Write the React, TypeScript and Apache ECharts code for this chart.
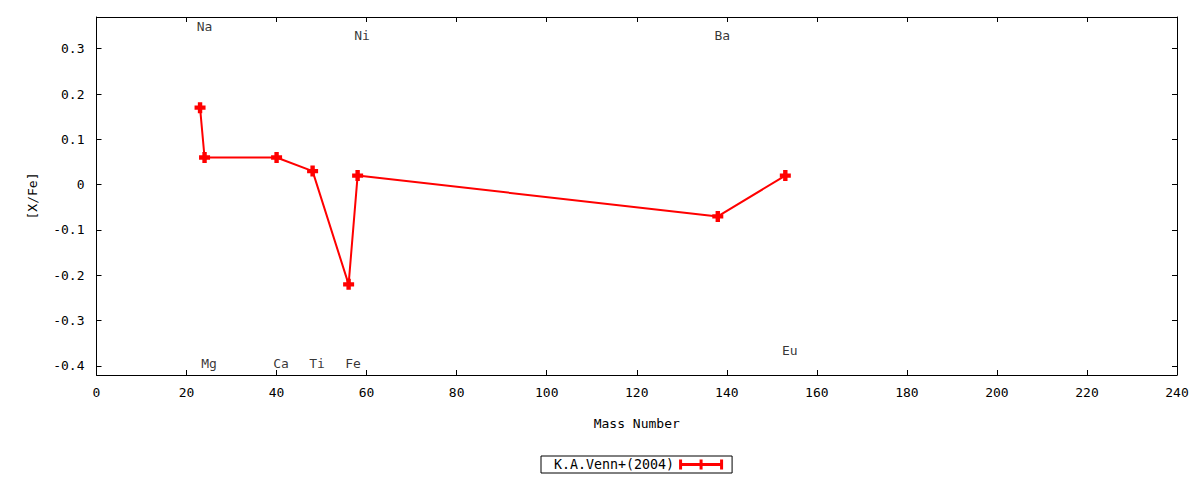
import { useEffect, useRef } from 'react';
import * as echarts from 'echarts';

// measured abundances (mass number vs [X/Fe])
const massNumbers = [23, 24, 40, 48, 56, 58, 138, 153];
const xFeValues = [0.17, 0.06, 0.06, 0.03, -0.22, 0.02, -0.07, 0.02];

// element labels placed in data coordinates
const elementNames = ['Na', 'Mg', 'Ca', 'Ti', 'Fe', 'Ni', 'Ba', 'Eu'];
const elementLabelX = [24, 25, 41, 49, 57, 59, 139, 154];
const elementLabelY = [0.35, -0.395, -0.395, -0.395, -0.395, 0.33, 0.33, -0.365];

const yTicks = [-0.4, -0.3, -0.2, -0.1, 0, 0.1, 0.2, 0.3];
const seriesName = 'K.A.Venn+(2004)';

const FONT = 'DejaVu Sans Mono';
const PLUS = 'path://M3,0h4v3h3v4h-3v3h-4v-3h-3v-4h3z';
const LEGEND_ICON =
    'path://M0,1h3v3.5h17.5v-3.5h3v3.5h17.5v-3.5h3v10h-3v-3.5h-17.5v3.5h-3v-3.5h-17.5v3.5h-3z';

export default function App() {
    const chartRef = useRef<HTMLDivElement>(null);

    useEffect(() => {
        if (!chartRef.current) return;
        const chart = echarts.init(chartRef.current, undefined, { renderer: 'svg' });

        const axisLine = { show: true, onZero: false, lineStyle: { color: '#000', width: 1 } };
        const tick = { show: true, inside: true, length: 5, lineStyle: { color: '#000' } };
        const text = { color: '#000', fontFamily: FONT, fontSize: 13 };

        chart.setOption({
            animation: false,
            textStyle: { fontFamily: FONT },
            grid: { left: 96.5, right: 23, top: 17, bottom: 105, containLabel: false },
            legend: {
                show: true,
                data: [{ name: seriesName, icon: LEGEND_ICON }],
                left: 541,
                top: 456,
                align: 'right',
                itemWidth: 44,
                itemHeight: 10,
                padding: [2, 9, 2, 13],
                borderColor: '#000',
                borderWidth: 1,
                textStyle: { ...text, fontSize: 13.3 },
            },
            xAxis: [
                {
                    type: 'value',
                    min: 0,
                    max: 240,
                    interval: 20,
                    name: 'Mass Number',
                    nameLocation: 'middle',
                    nameGap: 42,
                    nameTextStyle: { ...text },
                    axisLine,
                    axisTick: tick,
                    axisLabel: { ...text, margin: 11 },
                    splitLine: { show: false },
                },
                {
                    type: 'value',
                    position: 'top',
                    min: 0,
                    max: 240,
                    interval: 20,
                    axisLine,
                    axisTick: tick,
                    axisLabel: { show: false },
                    splitLine: { show: false },
                },
            ],
            yAxis: [
                {
                    type: 'value',
                    min: -0.42,
                    max: 0.37,
                    name: '[X/Fe]',
                    nameLocation: 'middle',
                    nameRotate: 90,
                    nameGap: 58,
                    nameTextStyle: { ...text },
                    axisLine,
                    axisTick: { ...tick, customValues: yTicks },
                    axisLabel: { ...text, margin: 12, customValues: yTicks },
                    splitLine: { show: false },
                },
                {
                    type: 'value',
                    position: 'right',
                    min: -0.42,
                    max: 0.37,
                    axisLine,
                    axisTick: { ...tick, customValues: yTicks },
                    axisLabel: { show: false, customValues: yTicks },
                    splitLine: { show: false },
                },
            ],
            series: [
                {
                    name: seriesName,
                    type: 'line',
                    data: massNumbers.map((m, i) => [m, xFeValues[i]]),
                    symbol: PLUS,
                    symbolSize: 11,
                    showAllSymbol: true,
                    lineStyle: { color: '#ff0000', width: 2 },
                    itemStyle: { color: '#ff0000' },
                },
                {
                    name: 'labels',
                    type: 'scatter',
                    data: elementNames.map((n, i) => ({ name: n, value: [elementLabelX[i], elementLabelY[i]] })),
                    symbolSize: 1,
                    itemStyle: { color: 'rgba(0,0,0,0)' },
                    label: {
                        show: true,
                        position: 'inside',
                        formatter: (p: any) => p.name,
                        ...text,
                    },
                    silent: true,
                },
            ],
        });

        return () => {
            chart.dispose();
        };
    }, []);

    return (
        <div
            ref={chartRef}
            style={{ position: 'fixed', left: 0, top: 0, width: '1200px', height: '480px', background: '#fff' }}
        />
    );
}
